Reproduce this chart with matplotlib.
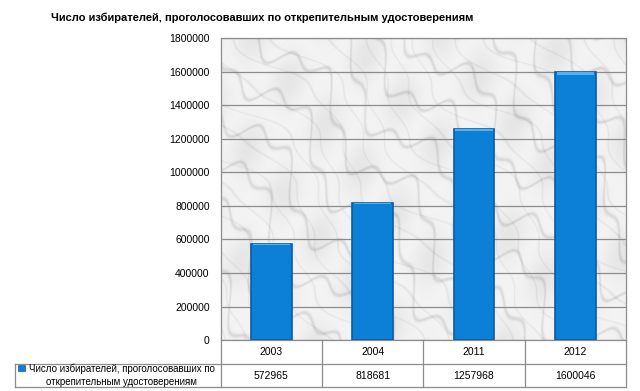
import numpy as np
import matplotlib
matplotlib.use("Agg")
import matplotlib.pyplot as plt
from matplotlib.patches import Rectangle
from matplotlib.transforms import blended_transform_factory

# ── Data ────────────────────────────────────────────────────────────────────
years = ["2003", "2004", "2011", "2012"]
voters = [572965, 818681, 1257968, 1600046]
series_name = "Число избирателей, проголосовавших по\nоткрепительным удостоверениям"
title = "Число избирателей, проголосовавших по открепительным удостоверениям"
yticks = list(range(0, 1800001, 200000))

BAR = "#0c7fd6"
BAR_EDGE = "#0a5ca6"

plt.rcParams["font.family"] = ["Liberation Sans", "DejaVu Sans"]

fig = plt.figure(figsize=(6.4, 3.91), dpi=100)
fig.patch.set_facecolor("white")
ax = fig.add_axes([0.345, 0.130, 0.633, 0.773])

# marble-ish background (deterministic smooth pattern, purely decorative)
gx, gy = np.meshgrid(np.linspace(0, 12, 500), np.linspace(0, 9, 400))
u = gx - 0.8 * gy          # streaks running lower-left -> upper-right
v = gx + 0.6 * gy
f1 = np.sin(u * 2.1 + 1.4 * np.sin(v * 1.3) + 0.6 * np.sin(v * 3.7 + gx))
f2 = np.sin(u * 3.4 + 2.0 * np.sin(v * 0.9 + 1.0) + 0.5 * np.sin(gy * 4.1))
veins = np.exp(-(f1 / 0.15) ** 2) * 0.5 + np.exp(-(f2 / 0.10) ** 2) * 0.3
patches = 0.05 * (np.sin(v * 1.7) * np.sin(u * 1.1 + 0.5)) ** 2
tex = 0.95 - 0.20 * veins - patches
ax.imshow(tex, cmap="gray", vmin=0, vmax=1, extent=(-0.5, 3.5, 0, 1800000),
          aspect="auto", zorder=0, interpolation="bilinear")

x = np.arange(len(years))
ax.bar(x, voters, width=0.4, color=BAR, edgecolor=BAR_EDGE, linewidth=1.2, zorder=3)
# small bevel highlight on top of each bar
ax.bar(x, [v * 0.012 for v in voters], bottom=[v * 0.988 for v in voters],
       width=0.37, color="#55b0f0", edgecolor="none", zorder=4)

ax.set_xlim(-0.5, 3.5)
ax.set_ylim(0, 1800000)
ax.set_yticks(yticks)
ax.set_yticklabels([str(t) for t in yticks], fontsize=7.5)
ax.yaxis.grid(True, color="#8c8c8c", linewidth=0.9, zorder=1)
ax.set_axisbelow(True)
ax.tick_params(axis="y", length=0, pad=8)
ax.set_xticks([])
for s in ax.spines.values():
    s.set_color("#8c8c8c")
    s.set_linewidth(0.9)

fig.text(0.41, 0.955, title, ha="center", va="center", fontsize=8.0,
         fontweight="bold")

# ── Data table under the axis ─────────────────────────────────────────────
tr = blended_transform_factory(ax.transData, ax.transAxes)
row_h = 0.078
y1, y2 = -row_h, -2 * row_h
lc = "#8c8c8c"
edges = [-0.5, 0.5, 1.5, 2.5, 3.5]
ax.plot([-0.5, 3.5], [y1, y1], color=lc, lw=0.9, transform=tr, clip_on=False)
ax.plot([-0.5, 3.5], [y2, y2], color=lc, lw=0.9, transform=tr, clip_on=False)
for e in edges:
    ax.plot([e, e], [0, y2], color=lc, lw=0.9, transform=tr, clip_on=False)

# legend cell extends left into figure area
left_x = 15 / 640
fig_tr = blended_transform_factory(fig.transFigure, ax.transAxes)
ax.plot([left_x, 0.345], [y1, y1], color=lc, lw=0.9, transform=fig_tr, clip_on=False)
ax.plot([left_x, 0.345], [y2, y2], color=lc, lw=0.9, transform=fig_tr, clip_on=False)
ax.plot([left_x, left_x], [y1, y2], color=lc, lw=0.9, transform=fig_tr, clip_on=False)

for i, (yr, val) in enumerate(zip(years, voters)):
    ax.text(i, (0 + y1) / 2, yr, transform=tr, ha="center", va="center", fontsize=7.5)
    ax.text(i, (y1 + y2) / 2, str(val), transform=tr, ha="center", va="center", fontsize=7.5)

ax.add_patch(Rectangle((18 / 640, y1 - 0.025), 7 / 640, 0.02, transform=fig_tr,
                       facecolor=BAR, edgecolor=BAR_EDGE, lw=0.5, clip_on=False))
ax.text(0.19, (y1 + y2) / 2, series_name, transform=fig_tr, ha="center",
        va="center", fontsize=7, linespacing=1.35)

fig.savefig("out.png", dpi=100, facecolor="white")
